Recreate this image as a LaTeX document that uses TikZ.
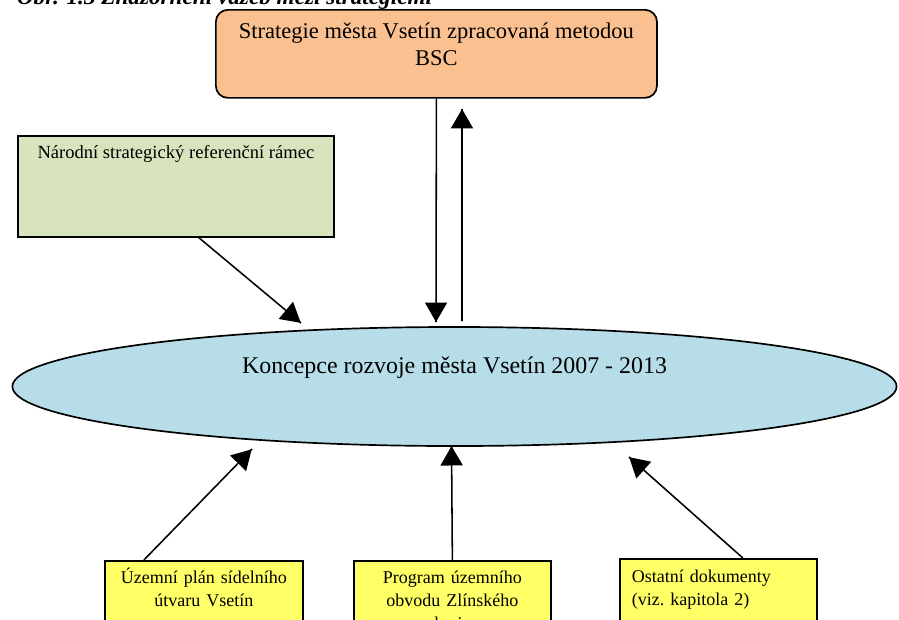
\documentclass[tikz,border=0pt]{standalone}
\usepackage{fontspec}
\setmainfont{Liberation Serif}
\usetikzlibrary{arrows}
\usetikzlibrary{calc}
\usetikzlibrary{decorations.markings}
\usetikzlibrary{shapes.geometric}
\tikzset{flow/.style = {line width=1.1pt,
                        decoration={markings,
                                    mark=at position 1 with {\arrow[scale=1.8]{triangle 60}}},
                        postaction={decorate}}}
\definecolor{mpeach}{RGB}{250,192,144}
\definecolor{mgreen}{RGB}{215,228,189}
\definecolor{mblue}{RGB}{183,222,232}
\definecolor{myellow}{RGB}{255,255,102}

\begin{document}
\begin{tikzpicture}[x=0.025cm, y=-0.025cm,
    box/.style = {draw, line width=1.2pt, inner sep=0pt, anchor=north west},
    doc/.style = {box, fill=myellow, text width=4.925cm, align=center,
                  text height=0.575cm, text depth=2.5cm,
                  font=\fontsize{12.8}{16.4}\selectfont}]
    \useasboundingbox (0,0) rectangle (899,619);

    \node [anchor=base west, font=\bfseries\itshape\fontsize{16.5}{20}\selectfont] (title)
        at (12,4) {Obr. 1.3 Znázornění vazeb mezi strategiemi};

    \node [box, fill=mpeach, rounded corners=0.3cm, minimum width=11.025cm, align=center,
           text height=1.4cm, text depth=0.8cm, font=\fontsize{16}{19.2}\selectfont] (bsc)
        at (215,9) {Strategie města Vsetín zpracovaná metodou\\BSC};
    \node [box, fill=mgreen, minimum width=7.9cm, text height=0.575cm, text depth=1.95cm,
           font=\fontsize{13.2}{16.4}\selectfont] (nsrr)
        at (17,135) {Národní strategický referenční rámec};
    \node [draw, line width=1.2pt, fill=mblue, ellipse, inner sep=0pt,
           minimum width=22.1cm, minimum height=2.975cm,
           font=\fontsize{17}{20}\selectfont] (koncepce)
        at (454.5,386.5) {\raisebox{0.32cm}[0pt][0pt]{Koncepce rozvoje města Vsetín 2007 - 2013}};

    \node [doc, text width=4.95cm] (upl) at (104,560) {Územní plán sídelního\\útvaru Vsetín};
    \node [doc] (puok) at (353,560) {Program územního\\obvodu Zlínského\\kraje};
    \node [doc, text width=4.325cm, inner xsep=0.3cm, align=left, text height=0.6cm] (ost)
        at (619,558) {Ostatní dokumenty\\(viz.\ kapitola 2)};

    \coordinate (kin) at (436,322);
    \coordinate (kout) at (462,109);
    \coordinate (knsrr) at (301,323);
    \coordinate (kupl) at (252,449);
    \coordinate (kpuok) at (451.5,446);
    \coordinate (kost) at (629,457);

    \draw [flow] (bsc.south) -- (kin);
    \draw [flow] ($(koncepce.north)+(7.5,-5)$) -- (kout);
    \draw [flow] ($(nsrr.south)+(23,0)$) -- (knsrr);
    \draw [flow] ($(upl.north)+(-60,0)$) -- (kupl);
    \draw [flow] (puok.north) -- (kpuok);
    \draw [flow] ($(ost.north)+(24.5,0)$) -- (kost);
\end{tikzpicture}
\end{document}
